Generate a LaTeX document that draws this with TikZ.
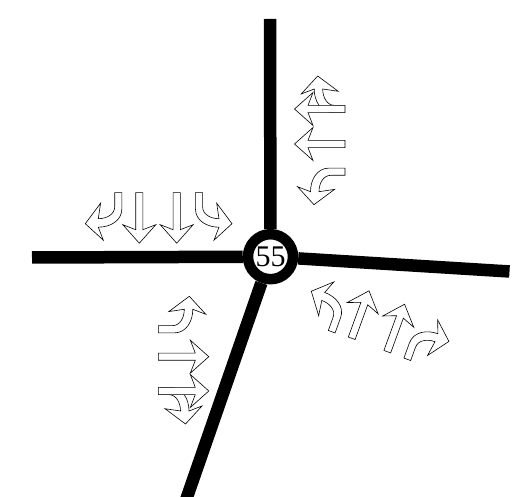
\documentclass[tikz,border=0pt]{standalone}
\usepackage{fontspec}
\setmainfont{Liberation Serif}
\usetikzlibrary{positioning}
\tikzset{
    road/.style={line width=12.5pt,draw=black},
    hub/.style={
        circle,draw=black,line width=10.5pt,fill=white,
        minimum size=45pt,inner sep=0pt,
        font=\fontsize{30}{30}\selectfont
    },
    lane/.style={draw=black,fill=white,line width=0.6pt,line join=miter},
    straightlane/.pic={
        \draw[lane] (-3.6,0)--(-3.6,37)--(-16.5,32)--(0,50.5)--(16.5,32)--(3.6,37)--(3.6,0)--cycle;
    },
    turnlane/.pic={
        \draw[lane] (-3.6,#1)--(-3.6,16) .. controls (-3.6,28) and (8,34.5) .. (20,34.5)
            --(15,47.5)--(33,31)--(17.7,10.5)--(20,26)
            .. controls (12,26) and (3.6,22) .. (3.6,14)--(3.6,#1)--cycle;
    }
}

\begin{document}
\begin{tikzpicture}[x=1pt,y=1pt]
\useasboundingbox (0,0) rectangle (523,497);

\node[hub] (junction) at (270.5,240.3) {55};
\coordinate (northend) at (270,478);
\coordinate (westend) at (32,239.5);
\coordinate (eastend) at (509.5,225.5);
\coordinate (southend) at (185.3,-5);

\draw[road] (junction)--(northend);
\draw[road] (junction)--(westend);
\draw[road] (junction)--(eastend);
\draw[road] (junction)--(southend);

% north approach
\pic[rotate=90] at (348.7,388) {turnlane=6};
\pic[rotate=90] at (345,388) {straightlane};
\pic[rotate=90] at (345,353) {straightlane};
\pic[rotate=90,xscale=-1] at (345,325.3) {turnlane=0};

% west approach
\pic[rotate=180] at (118.3,304.3) {turnlane=0};
\pic[rotate=180] at (139.3,304.3) {straightlane};
\pic[rotate=180] at (176.7,304.3) {straightlane};
\pic[rotate=180,xscale=-1] at (199,304.3) {turnlane=0};

% south approach
\pic[rotate=-90,xscale=-1] at (158.3,167.7) {turnlane=0};
\pic[rotate=-90] at (158.3,140.3) {straightlane};
\pic[rotate=-90] at (154.5,106) {turnlane=6};
\pic[rotate=-90] at (158.3,106) {straightlane};

% east approach
\pic[rotate=-20,xscale=-1] at (331.7,165.3) {turnlane=0};
\pic[rotate=-20] at (351.7,158.7) {straightlane};
\pic[rotate=-20] at (387.3,145.3) {straightlane};
\pic[rotate=-20] at (407.3,137.7) {turnlane=0};

\end{tikzpicture}
\end{document}
